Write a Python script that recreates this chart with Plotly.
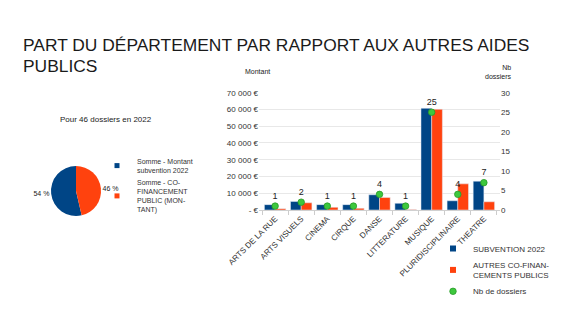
import plotly.graph_objects as go

categories = ["ARTS DE LA RUE", "ARTS VISUELS", "CINEMA", "CIRQUE", "DANSE",
              "LITTERATURE", "MUSIQUE", "PLURIDISCIPLINAIRE", "THEATRE"]
subvention = [3200, 5100, 3200, 3200, 9100, 4000, 60700, 5500, 17200]
cofinancement = [800, 4300, 1600, 1000, 7500, 300, 60100, 15600, 4900]
nb_dossiers = [1, 2, 1, 1, 4, 1, 25, 4, 7]

pie_labels = ["Somme - Montant<br>subvention 2022",
              "Somme - CO-<br>FINANCEMENT<br>PUBLIC (MON-<br>TANT)"]
pie_values = [sum(subvention), sum(cofinancement)]

bar_names = ["SUBVENTION 2022", "AUTRES CO-FINAN-<br>CEMENTS PUBLICS"]
point_name = "Nb de dossiers"

y_tickvals = [0, 10000, 20000, 30000, 40000, 50000, 60000, 70000]
y_ticktext = ["- €", "10 000 €", "20 000 €", "30 000 €", "40 000 €",
              "50 000 €", "60 000 €", "70 000 €"]

BLUE = "#004586"
ORANGE = "#ff420e"
GREEN = "#3dc83d"
FONT = "Liberation Sans"
W, H = 583, 328

def px(x):
    return x / W

def py(y):
    return 1 - y / H

total = sum(pie_values)
pie_text = [f"{round(v / total * 100)} %" for v in pie_values]

fig = go.Figure()

fig.add_trace(go.Pie(
    labels=pie_labels, values=pie_values, sort=False, direction="clockwise",
    rotation=360 * pie_values[1] / total, marker=dict(colors=[BLUE, ORANGE]),
    text=pie_text, textinfo="text", textposition="outside",
    textfont=dict(size=7, color="#222", family=FONT),
    domain=dict(x=[px(34), px(118)], y=[py(216), py(166)]),
    showlegend=False, hoverinfo="label+percent",
))

fig.add_trace(go.Bar(
    x=categories, y=subvention, name=bar_names[0], marker_color=BLUE,
    xaxis="x", yaxis="y", showlegend=False,
))
fig.add_trace(go.Bar(
    x=categories, y=cofinancement, name=bar_names[1],
    marker_color=ORANGE, xaxis="x", yaxis="y", showlegend=False,
))
fig.add_trace(go.Scatter(
    x=categories, y=nb_dossiers, name=point_name, yaxis="y2", xaxis="x",
    mode="markers+text", text=[str(v) for v in nb_dossiers],
    textposition="top center", textfont=dict(size=9, color="#222", family=FONT),
    marker=dict(size=6.5, color=GREEN, line=dict(color="#2a9a2a", width=0.8)),
    cliponaxis=False, legendrank=3,
))
# small square legend proxies
for i, (lab, col) in enumerate(zip(bar_names, [BLUE, ORANGE])):
    fig.add_trace(go.Scatter(
        x=[None], y=[None], mode="markers", name=lab, legend="legend",
        marker=dict(symbol="square", size=6, color=col), hoverinfo="skip",
        legendrank=1 + i,
    ))
for lab, col in zip(pie_labels, [BLUE, ORANGE]):
    fig.add_trace(go.Scatter(
        x=[None], y=[None], mode="markers", name=lab, legend="legend2",
        marker=dict(symbol="square", size=5, color=col), hoverinfo="skip",
    ))

fig.update_layout(
    width=W, height=H,
    margin=dict(l=0, r=0, t=0, b=0, autoexpand=False),
    paper_bgcolor="white", plot_bgcolor="white",
    font=dict(family=FONT, color="#333"),
    barmode="group", bargap=0.18, bargroupgap=0,
    xaxis=dict(
        domain=[px(259), px(500)], anchor="y", automargin=False,
        type="category", categoryorder="array", categoryarray=categories,
        tickangle=-45, tickfont=dict(size=8, color="#333"),
        ticks="outside", tickson="boundaries", ticklen=4, tickcolor="#cccccc",
        showline=True, linecolor="#d0d0d0", linewidth=1, showgrid=False,
    ),
    yaxis=dict(
        domain=[py(210), py(92.7)], range=[0, 70000], automargin=False,
        tickvals=y_tickvals, ticktext=y_ticktext,
        tickfont=dict(size=8, color="#333"),
        showgrid=True, gridcolor="#e8e8e8", gridwidth=1,
        zeroline=False, showline=False, ticks="",
    ),
    yaxis2=dict(
        overlaying="y", side="right", range=[0, 30], dtick=5, automargin=False,
        tickfont=dict(size=8, color="#333"), showgrid=False, zeroline=False,
        anchor="x", showline=False,
    ),
    legend=dict(
        x=px(433), y=py(234), xanchor="left", yanchor="top",
        font=dict(size=8, color="#333", family=FONT),
        bgcolor="rgba(0,0,0,0)", itemwidth=30, traceorder="normal",
    ),
    legend2=dict(
        x=px(97), y=py(150), xanchor="left", yanchor="top",
        font=dict(size=7, color="#333", family=FONT),
        bgcolor="rgba(0,0,0,0)", itemwidth=30, traceorder="normal",
    ),
    annotations=[
        dict(text="PART DU DÉPARTEMENT PAR RAPPORT AUX AUTRES AIDES",
             x=px(21), y=py(52), xref="paper", yref="paper",
             xanchor="left", yanchor="bottom", align="left", showarrow=False,
             yshift=-5.5, font=dict(size=17.4, color="#1a1a1a", family=FONT)),
        dict(text="PUBLICS",
             x=px(21), y=py(71), xref="paper", yref="paper",
             xanchor="left", yanchor="bottom", align="left", showarrow=False,
             yshift=-7, font=dict(size=17.4, color="#1a1a1a", family=FONT)),
        dict(text="Pour 46 dossiers en 2022", x=px(106), y=py(119),
             xref="paper", yref="paper", xanchor="center", yanchor="middle",
             showarrow=False, font=dict(size=8, color="#222", family=FONT)),
        dict(text="Montant", x=px(257), y=py(72), xref="paper", yref="paper",
             xanchor="center", yanchor="middle", showarrow=False,
             font=dict(size=7, color="#222", family=FONT)),
        dict(text="Nb<br>dossiers", x=px(514), y=py(72), xref="paper", yref="paper",
             xanchor="right", yanchor="middle", align="right", showarrow=False,
             font=dict(size=7, color="#222", family=FONT)),
    ],
)

fig.write_html("out.html")
